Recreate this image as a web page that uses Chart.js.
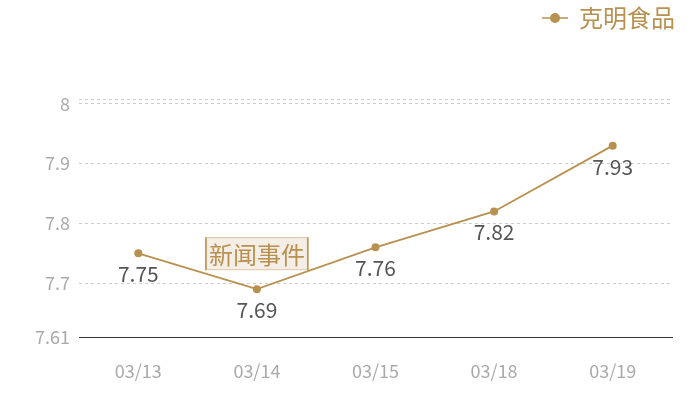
<!DOCTYPE html>
<html>
<head>
<meta charset="utf-8">
<script src="https://cdn.jsdelivr.net/npm/chart.js@4"></script>
<style>
  html, body { margin: 0; padding: 0; background: #fff; }
  #wrap { width: 700px; height: 400px; }
</style>
</head>
<body>
<div id="wrap"><canvas id="priceChart"></canvas></div>
<script>
// data
var dates = ['03/13', '03/14', '03/15', '03/18', '03/19'];
var prices = [7.75, 7.69, 7.76, 7.82, 7.93];
var events = ['', '新闻事件', '', '', ''];
var yTicks = [7.61, 7.7, 7.8, 7.9, 8];
var seriesName = '克明食品';

var gold = '#b8904f';
var fontFamily = "'Noto Sans CJK SC', 'Noto Sans', sans-serif";

// legend marker: short line with a dot
function legendMarker() {
  var c = document.createElement('canvas');
  c.width = 26; c.height = 12;
  var g = c.getContext('2d');
  g.strokeStyle = gold; g.lineWidth = 1.5;
  g.beginPath(); g.moveTo(0, 6); g.lineTo(26, 6); g.stroke();
  g.fillStyle = gold;
  g.beginPath(); g.arc(13, 6, 5, 0, Math.PI * 2); g.fill();
  return c;
}

// push the plot area down below the legend, legend a bit further right
var legendSpace = {
  id: 'legendSpace',
  beforeInit: function(chart) {
    var fit = chart.legend.fit;
    chart.legend.fit = function() {
      fit.bind(chart.legend)();
      this.height += 59;
    };
  },
  afterLayout: function(chart) {
    chart.legend.left += 3;
    chart.legend.right += 3;
  }
};

var labelsPlugin = {
  id: 'pointLabels',
  afterDatasetsDraw: function(chart) {
    var ctx = chart.ctx;
    var meta = chart.getDatasetMeta(0);
    ctx.save();
    ctx.font = '21px ' + fontFamily;
    ctx.fillStyle = '#555';
    ctx.textAlign = 'center';
    ctx.textBaseline = 'middle';
    meta.data.forEach(function(pt, i) {
      ctx.fillText(prices[i].toFixed(2), pt.x, pt.y + 21);
    });
    // event boxes
    meta.data.forEach(function(pt, i) {
      if (!events[i]) return;
      ctx.font = '24px ' + fontFamily;
      var w = ctx.measureText(events[i]).width + 6;
      var h = 33;
      var x = pt.x - w / 2, y = pt.y - 19 - h;
      ctx.fillStyle = '#f4eee6';
      ctx.fillRect(x, y, w, h);
      ctx.strokeStyle = '#dcc9a8';
      ctx.lineWidth = 1;
      ctx.strokeRect(x + 0.5, y + 0.5, w - 1, h - 1);
      ctx.strokeStyle = gold;
      ctx.lineWidth = 1.5;
      ctx.beginPath();
      ctx.moveTo(x, y); ctx.lineTo(x, y + h);
      ctx.moveTo(x + w, y); ctx.lineTo(x + w, y + h);
      ctx.stroke();
      ctx.fillStyle = gold;
      ctx.fillText(events[i], pt.x, y + h / 2 + 1);
    });
    ctx.restore();
  }
};

new Chart(document.getElementById('priceChart'), {
  type: 'line',
  data: {
    labels: dates,
    datasets: [{
      label: seriesName,
      data: prices,
      borderColor: gold,
      backgroundColor: gold,
      borderWidth: 1.8,
      tension: 0,
      pointStyle: 'circle',
      pointRadius: 4,
      pointBorderWidth: 0,
      pointBackgroundColor: gold
    }]
  },
  options: {
    responsive: true,
    maintainAspectRatio: false,
    animation: false,
    layout: { padding: { left: 0, right: 28, top: 6, bottom: 0 } },
    plugins: {
      tooltip: { enabled: false },
      legend: {
        position: 'top',
        align: 'end',
        labels: {
          usePointStyle: true,
          pointStyle: legendMarker(),
          color: gold,
          font: { size: 24, family: fontFamily },
          padding: 0,
          boxHeight: 12
        }
      }
    },
    scales: {
      x: {
        offset: true,
        afterFit: function(scale) { scale.height = 63; },
        grid: { display: false },
        border: { display: true, color: '#333', width: 1 },
        ticks: { color: '#aaa', font: { size: 18, family: fontFamily }, padding: 15 }
      },
      y: {
        min: 7.61,
        max: 8.008,
        afterFit: function(scale) { scale.width = 79; },
        afterBuildTicks: function(scale) {
          scale.ticks = yTicks.concat([8.008]).map(function(v) { return { value: v }; });
        },
        border: { display: false, dash: [3, 3] },
        grid: { color: '#ccc', lineWidth: 1, drawTicks: false },
        ticks: {
          color: '#aaa',
          font: { size: 18, family: fontFamily },
          padding: 9,
          callback: function(v) { return yTicks.indexOf(v) >= 0 ? String(v) : ''; }
        }
      }
    }
  },
  plugins: [legendSpace, labelsPlugin]
});
</script>
</body>
</html>
